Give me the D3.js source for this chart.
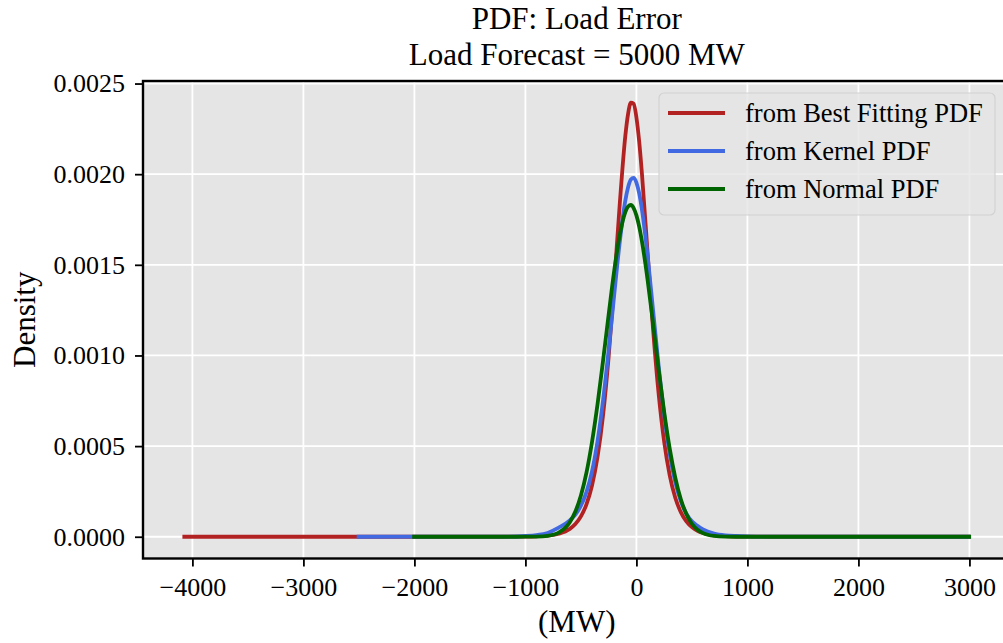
<!DOCTYPE html>
<html>
<head>
<meta charset="utf-8">
<script src="https://cdn.jsdelivr.net/npm/d3@7"></script>
<style>
  body { margin: 0; background: #ffffff; }
  text { font-family: "Liberation Serif", "Times New Roman", serif; fill: #000; }
</style>
</head>
<body>
<script>
// chart text
var titleLines = ["PDF: Load Error", "Load Forecast = 5000 MW"];
var xLabel = "(MW)";
var yLabel = "Density";
var seriesNames = ["from Best Fitting PDF", "from Kernel PDF", "from Normal PDF"];
var seriesColors = ["#b22222", "#4169e1", "#006400"];

// tick values
var xTicks = [-4000, -3000, -2000, -1000, 0, 1000, 2000, 3000];
var yTicks = [0, 0.0005, 0.0010, 0.0015, 0.0020, 0.0025];

// x positions (MW) shared by the central part of all three curves
var coreX = [-1200, -1000, -900, -800, -700, -600, -550, -500, -450, -400, -350, -300,
  -250, -200, -150, -100, -75, -50, -25, 0, 25, 50, 100, 150, 200, 250, 300, 350, 400,
  450, 500, 550, 600, 700, 800, 900, 1000, 1200];

// first / last x of each curve (density ~0 there)
var bestRange = [-4090, 3010];
var kernelRange = [-2520, 3010];
var normalRange = [-2020, 3015];

// densities, one per coreX
var bestDensity = [0.0000001, 0.0000009, 0.0000025, 0.0000064, 0.0000168, 0.0000436,
  0.0000700, 0.0001125, 0.000179, 0.000283, 0.000441, 0.000673, 0.000994, 0.001397,
  0.001836, 0.002211, 0.002333, 0.002394, 0.002388, 0.002313, 0.002180, 0.002001,
  0.001573, 0.001146, 0.000790, 0.000524, 0.000339, 0.000215, 0.000136, 0.0000848,
  0.0000528, 0.0000328, 0.0000203, 0.0000078, 0.0000030, 0.0000011, 0.0000004, 0.0000001];
var kernelDensity = [0.0000005, 0.000004, 0.000009, 0.000021, 0.000050, 0.000090,
  0.000122, 0.000171, 0.000246, 0.000360, 0.000528, 0.000754, 0.001030, 0.001335,
  0.001626, 0.001854, 0.001928, 0.001971, 0.001980, 0.001954, 0.001894, 0.001804,
  0.001554, 0.001250, 0.000944, 0.000673, 0.000457, 0.000302, 0.000197, 0.000128,
  0.000085, 0.000060, 0.000040, 0.000018, 0.000008, 0.000004, 0.000002, 0.0000005];
var normalDensity = [0, 0.0000002, 0.000001, 0.0000053, 0.000023, 0.00008,
  0.000139, 0.000228, 0.000354, 0.000523, 0.000732, 0.000973, 0.001226, 0.001467,
  0.001664, 0.001791, 0.001822, 0.00183, 0.001813, 0.001773, 0.001711, 0.001629,
  0.001421, 0.001176, 0.000923, 0.000688, 0.000486, 0.000326, 0.000207, 0.000125,
  0.0000716, 0.000039, 0.0000201, 0.0000046, 0.0000008, 0.0000001, 0, 0];

function makeSeries(range, dens) {
  var pts = [[range[0], 0]];
  coreX.forEach(function(x, i) { pts.push([x, dens[i]]); });
  pts.push([range[1], 0]);
  return pts;
}

var series = [
  makeSeries(bestRange, bestDensity),
  makeSeries(kernelRange, kernelDensity),
  makeSeries(normalRange, normalDensity)
];

var width = 1003, height = 643;
var plot = { left: 143, right: 1010.5, top: 81, bottom: 558.5 };

var svg = d3.select('body').append('svg')
  .attr('width', width)
  .attr('height', height);

var x = d3.scaleLinear().domain([-4445, 3370]).range([plot.left, plot.right]);
var y = d3.scaleLinear().domain([-0.00012, 0.002514]).range([plot.bottom, plot.top]);

// panel background
svg.append('rect')
  .attr('x', plot.left).attr('y', plot.top)
  .attr('width', plot.right - plot.left)
  .attr('height', plot.bottom - plot.top)
  .attr('fill', '#e5e5e5');

// grid
var grid = svg.append('g');
grid.selectAll('.gx').data(xTicks).enter().append('line')
  .attr('x1', function(d) { return x(d); }).attr('x2', function(d) { return x(d); })
  .attr('y1', plot.top).attr('y2', plot.bottom)
  .attr('stroke', '#ffffff').attr('stroke-width', 1.8);
grid.selectAll('.gy').data(yTicks).enter().append('line')
  .attr('x1', plot.left).attr('x2', plot.right)
  .attr('y1', function(d) { return y(d); }).attr('y2', function(d) { return y(d); })
  .attr('stroke', '#ffffff').attr('stroke-width', 1.8);

// curves
var line = d3.line()
  .x(function(d) { return x(d[0]); })
  .y(function(d) { return y(d[1]); })
  .curve(d3.curveMonotoneX);

svg.selectAll('.curve').data(series).enter().append('path')
  .attr('d', line)
  .attr('fill', 'none')
  .attr('stroke', function(d, i) { return seriesColors[i]; })
  .attr('stroke-width', 3.8)
  .attr('stroke-linejoin', 'round');

// axes
var xAxis = svg.append('g')
  .attr('transform', 'translate(0,' + plot.bottom + ')')
  .call(d3.axisBottom(x).tickValues(xTicks).tickSize(8).tickPadding(11).tickFormat(d3.format('d')));
var yAxis = svg.append('g')
  .attr('transform', 'translate(' + plot.left + ',0)')
  .call(d3.axisLeft(y).tickValues(yTicks).tickSize(8).tickPadding(10).tickFormat(d3.format('.4f')));

[xAxis, yAxis].forEach(function(ax) {
  ax.select('.domain').remove();
  ax.selectAll('.tick line').attr('stroke', '#000').attr('stroke-width', 1.8);
  ax.selectAll('.tick text')
    .attr('font-family', '"Liberation Serif", serif')
    .attr('font-size', 26)
    .attr('fill', '#000');
});

// frame
svg.append('rect')
  .attr('x', plot.left).attr('y', plot.top)
  .attr('width', plot.right - plot.left)
  .attr('height', plot.bottom - plot.top)
  .attr('fill', 'none')
  .attr('stroke', '#000')
  .attr('stroke-width', 2.4);

// titles
svg.append('text')
  .attr('x', (plot.left + plot.right) / 2).attr('y', 29)
  .attr('text-anchor', 'middle').attr('font-size', 31)
  .text(titleLines[0]);
svg.append('text')
  .attr('x', (plot.left + plot.right) / 2).attr('y', 65)
  .attr('text-anchor', 'middle').attr('font-size', 31)
  .text(titleLines[1]);

svg.append('text')
  .attr('x', (plot.left + plot.right) / 2).attr('y', 632)
  .attr('text-anchor', 'middle').attr('font-size', 31)
  .text(xLabel);
svg.append('text')
  .attr('transform', 'translate(35,' + ((plot.top + plot.bottom) / 2) + ') rotate(-90)')
  .attr('text-anchor', 'middle').attr('font-size', 31)
  .text(yLabel);

// legend
var legend = svg.append('g');
legend.append('rect')
  .attr('x', 659).attr('y', 93)
  .attr('width', 336).attr('height', 122)
  .attr('rx', 5)
  .attr('fill', '#e5e5e5').attr('fill-opacity', 0.8)
  .attr('stroke', '#d2d2d2').attr('stroke-width', 1.2);

var rows = legend.selectAll('.row').data(seriesNames).enter().append('g')
  .attr('transform', function(d, i) { return 'translate(0,' + (113 + i * 38) + ')'; });
rows.append('line')
  .attr('x1', 668).attr('x2', 725)
  .attr('stroke', function(d, i) { return seriesColors[i]; })
  .attr('stroke-width', 3.8);
rows.append('text')
  .attr('x', 745).attr('y', 9)
  .attr('font-size', 26.5)
  .text(function(d) { return d; });
</script>
</body>
</html>
